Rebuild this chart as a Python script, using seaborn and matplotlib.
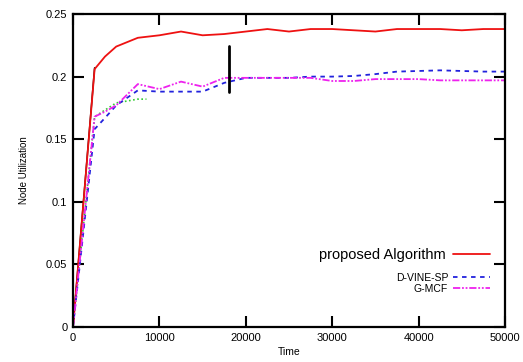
import pandas as pd
import matplotlib
matplotlib.use('Agg')
import matplotlib.pyplot as plt
import seaborn as sns

#%%
sns.set_style('ticks')
plt.rcParams['font.family'] = ['Liberation Sans', 'DejaVu Sans']
plt.rcParams['axes.edgecolor'] = 'black'
plt.rcParams['xtick.color'] = 'black'
plt.rcParams['ytick.color'] = 'black'
plt.rcParams['text.color'] = 'black'
plt.rcParams['axes.labelcolor'] = 'black'

#%%
time_grid = [0, 2500, 3700, 5000, 7500, 10000, 12500, 15000, 17500, 20000, 22500,
             25000, 27500, 30000, 32500, 35000, 37500, 40000, 42500, 45000, 47500, 50000]
proposed = [0, 0.206, 0.216, 0.224, 0.231, 0.233, 0.236, 0.233, 0.234, 0.236, 0.238,
            0.236, 0.238, 0.238, 0.237, 0.236, 0.238, 0.238, 0.238, 0.237, 0.238, 0.238]
dvine = [0, 0.158, 0.167, 0.177, 0.189, 0.188, 0.188, 0.188, 0.195, 0.199, 0.199,
         0.199, 0.2, 0.2, 0.2005, 0.202, 0.204, 0.2045, 0.205, 0.2045, 0.204, 0.204]
gmcf = [0, 0.168, 0.172, 0.177, 0.194, 0.19, 0.196, 0.192, 0.199, 0.199, 0.199,
        0.199, 0.199, 0.1965, 0.1965, 0.198, 0.198, 0.198, 0.197, 0.197, 0.197, 0.197]
green_t = [0, 2500, 5000, 7500, 8500]
green_v = [0, 0.168, 0.179, 0.182, 0.182]
black_t = [0, 2500]
black_v = [0, 0.207]
mark_t = [18000, 18000]
mark_v = [0.1876, 0.2244]

#%%
fig = plt.figure(figsize=(5.23, 3.62), dpi=100)
ax = fig.add_axes([0.1396, 0.0967, 0.826, 0.8646])

sns.lineplot(x=green_t, y=green_v, ax=ax, color='#33cc33', lw=1.2, linestyle=(0, (1, 1.5)))
sns.lineplot(x=black_t, y=black_v, ax=ax, color='black', lw=1.1)
sns.lineplot(x=time_grid, y=proposed, ax=ax, color='#ee1111', lw=1.3, label='proposed Algorithm')
sns.lineplot(x=time_grid, y=dvine, ax=ax, color='#2222dd', lw=1.3, linestyle=(0, (2.5, 2.5)), label='D-VINE-SP')
sns.lineplot(x=time_grid, y=gmcf, ax=ax, color='#ee22ee', lw=1.3, linestyle=(0, (4, 1, 1, 1, 1, 1)), label='G-MCF')
sns.lineplot(x=mark_t, y=mark_v, ax=ax, color='black', lw=2, estimator=None, sort=False)

ax.set_xlim(0, 50000)
ax.set_ylim(0, 0.25)
ax.set_xticks([0, 10000, 20000, 30000, 40000, 50000])
ax.set_yticks([0, 0.05, 0.1, 0.15, 0.2, 0.25])
ax.set_yticklabels(['0', '0.05', '0.1', '0.15', '0.2', '0.25'])
ax.tick_params(direction='in', length=8, width=1.5, labelsize=8, top=True, right=True, pad=4)
for s in ax.spines.values():
    s.set_linewidth(1.6)
ax.set_xlabel('Time', fontsize=7.5, labelpad=3)
ax.set_ylabel('Node Utilization', fontsize=7, labelpad=12)

handles, labels = ax.get_legend_handles_labels()
leg1 = ax.legend(handles[:1], labels[:1], loc='center right', bbox_to_anchor=(0.965, 0.23),
                 frameon=False, markerfirst=False, fontsize=10.5, handlelength=2.5,
                 borderpad=0, borderaxespad=0, handletextpad=0.5)
ax.add_artist(leg1)
ax.legend(handles[1:], labels[1:], loc='center right', bbox_to_anchor=(0.965, 0.14),
          frameon=False, markerfirst=False, fontsize=7.5, handlelength=3.5,
          borderpad=0, borderaxespad=0, handletextpad=0.5, labelspacing=0.1)

fig.savefig('out.png', dpi=100)
